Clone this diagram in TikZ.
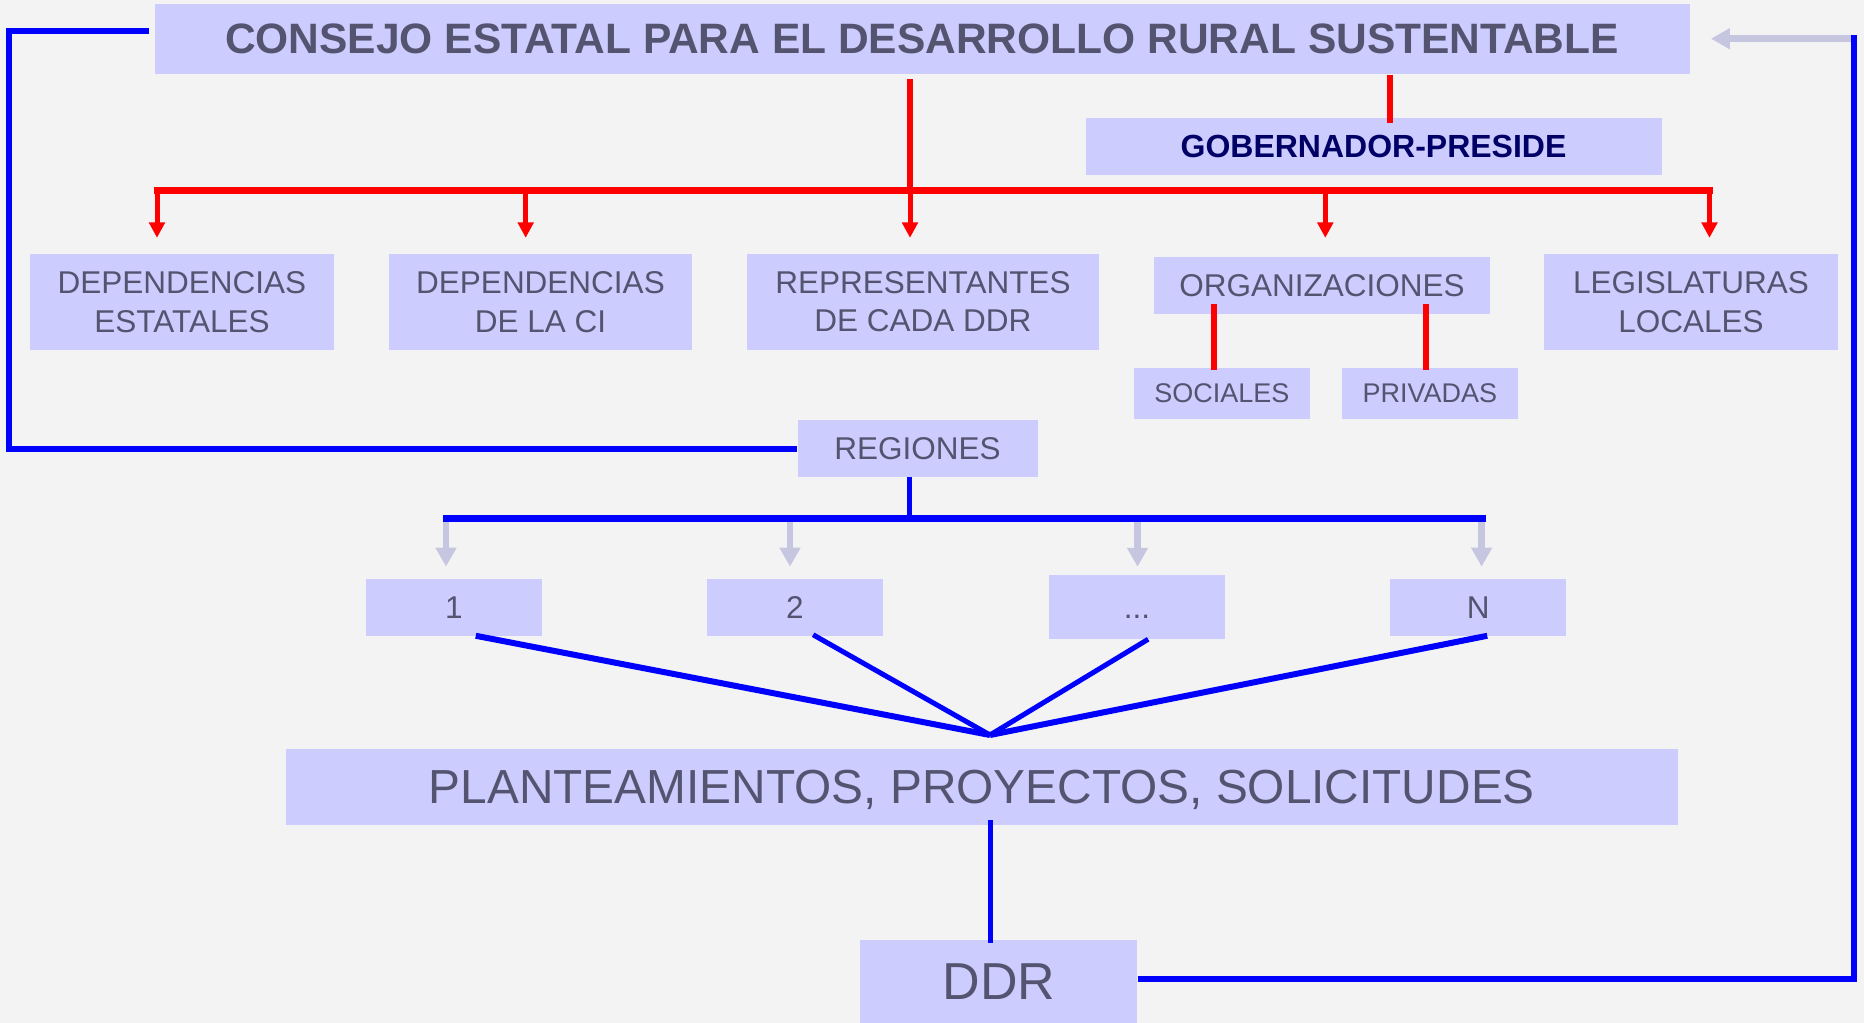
\documentclass[tikz,border=0pt]{standalone}
\usepackage{fontspec}
\setmainfont{Liberation Sans}
\usetikzlibrary{arrows.meta}
\definecolor{bgc}{RGB}{243,243,243}
\definecolor{boxc}{RGB}{204,204,255}
\definecolor{txtc}{RGB}{84,84,112}
\definecolor{navyc}{RGB}{0,0,102}
\definecolor{lavc}{RGB}{198,198,224}
\begin{document}
\begin{tikzpicture}[x=1pt,y=-1pt,
  box/.style={fill=boxc, inner sep=0pt, text=txtc, align=center, text depth=0pt},
  fbig/.style={font=\fontsize{31.5}{38.5}\selectfont},
  redln/.style={draw=red, line width=6.5pt},
  blueln/.style={draw=blue, line width=6pt},
  redarr/.style={draw=red, line width=5pt, -{Triangle[length=15.5pt,width=15.5pt]}},
  lavarr/.style={draw=lavc, line width=6.5pt, -{Triangle[length=19pt,width=20pt]}}]
\useasboundingbox (0,0) rectangle (1864,1023);
\fill[bgc] (0,0) rectangle (1864,1023);

% boxes
\node[box, minimum width=1535pt, minimum height=70pt, font=\fontsize{42.5}{50}\selectfont\bfseries] (title) at (922,38.5) {CONSEJO ESTATAL PARA EL DESARROLLO RURAL SUSTENTABLE};
\node[box, minimum width=576pt, minimum height=57.5pt, text=navyc, font=\fontsize{32}{38}\selectfont\bfseries] (gob) at (1373.5,146.5) {GOBERNADOR-PRESIDE};
\node[box, fbig, minimum width=304pt, minimum height=96pt] (depest) at (182,302) {DEPENDENCIAS\\ESTATALES};
\node[box, fbig, minimum width=303.5pt, minimum height=96pt] (depci) at (540.5,302) {DEPENDENCIAS\\DE LA CI};
\node[box, fbig, minimum width=352pt, minimum height=96pt] (repr) at (923,301.7) {REPRESENTANTES\\DE CADA DDR};
\node[box, fbig, minimum width=336pt, minimum height=57.3pt] (org) at (1322,285.2) {ORGANIZACIONES};
\node[box, fbig, minimum width=293.3pt, minimum height=95.4pt] (leg) at (1691,302) {LEGISLATURAS\\LOCALES};
\node[box, minimum width=175.6pt, minimum height=51pt, font=\fontsize{27}{32}\selectfont] (soc) at (1221.8,393.5) {SOCIALES};
\node[box, minimum width=176pt, minimum height=51pt, font=\fontsize{27}{32}\selectfont] (priv) at (1429.8,393.2) {PRIVADAS};
\node[box, fbig, minimum width=240pt, minimum height=56.7pt] (reg) at (917.5,448.5) {REGIONES};
\node[box, fbig, minimum width=176pt, minimum height=57.4pt] (r1) at (454,607.5) {1};
\node[box, fbig, minimum width=176pt, minimum height=57.4pt] (r2) at (795,607.5) {2};
\node[box, fbig, minimum width=176.6pt, minimum height=63.7pt] (rd) at (1137.1,607.3) {...\vphantom{N}};
\node[box, fbig, minimum width=175.6pt, minimum height=57.4pt] (rn) at (1478.2,607.5) {N};
\node[box, minimum width=1391.7pt, minimum height=76.4pt, font=\fontsize{47.8}{56}\selectfont] (plan) at (981.85,787) {PLANTEAMIENTOS, PROYECTOS, SOLICITUDES};
\node[box, minimum width=277pt, minimum height=84pt, font=\fontsize{52}{60}\selectfont] (ddr) at (998.85,981.5) {DDR};

% coordinates
\coordinate (tb) at (910,190.5);
\coordinate (b1) at (157,190.5);
\coordinate (b2) at (525.7,190.5);
\coordinate (b4) at (1325.3,190.5);
\coordinate (b5) at (1709.5,190.5);
\coordinate (g1) at (1390,122.5);
\coordinate (s1) at (1213.6,370);
\coordinate (p1) at (1425.9,370);
\coordinate (L1) at (9,31);
\coordinate (R1) at (1853.5,978.7);
\coordinate (R2) at (1853.5,35);
\coordinate (R3) at (1853,38.7);
\coordinate (rb) at (909.5,518.3);
\coordinate (bl) at (443,518.3);
\coordinate (br) at (1485.7,518.3);
\coordinate (a1) at (446,519);
\coordinate (a2) at (790,519);
\coordinate (a3) at (1137.5,519);
\coordinate (a4) at (1481.6,519);
\coordinate (c1) at (479,0);
\coordinate (c2) at (816,0);
\coordinate (c3) at (1148,0);
\coordinate (c4) at (1484,0);
\coordinate (cv) at (990,735);

% red connectors
\draw[redln, shorten <=5.5pt] (title.south -| tb) -- (tb);
\draw[redln, shorten <=1.5pt] (title.south -| g1) -- (g1);
\draw[redln, line cap=rect] (b1) -- (b5);
\draw[redarr, shorten >=16pt] (b1) -- (b1 |- depest.north);
\draw[redarr, shorten >=16pt] (b2) -- (b2 |- depci.north);
\draw[redarr, shorten >=15.7pt] (tb) -- (tb |- repr.north);
\draw[redarr, shorten >=18.5pt] (b4) -- (b4 |- org.north);
\draw[redarr, shorten >=16.3pt] (b5) -- (b5 |- leg.north);
\draw[redln, line width=6pt, shorten <=-10.3pt] (org.south -| s1) -- (s1);
\draw[redln, line width=6pt, shorten <=-10.3pt] (org.south -| p1) -- (p1);

% blue connectors
\draw[blueln, shorten <=5.5pt] ([yshift=7.5pt]title.west) -- (L1) -- (L1 |- reg.west) -- (reg.west);
\draw[lavarr, shorten >=21.2pt] (R3) -- (title.east |- R3);
\draw[blueln] (ddr.east |- R1) -- (R1) -- (R2);
\draw[blueln, line width=4.5pt] (reg.south -| rb) -- (rb);
\draw[lavarr, shorten >=12pt] (a1) -- (a1 |- r1.north);
\draw[lavarr, shorten >=12pt] (a2) -- (a2 |- r2.north);
\draw[lavarr, shorten >=8.5pt] (a3) -- (a3 |- rd.north);
\draw[lavarr, shorten >=12pt] (a4) -- (a4 |- rn.north);
\draw[blueln, line width=6.5pt] (bl) -- (br);
\draw[blueln, shorten <=-3.3pt] (r1.south -| c1) -- (cv);
\draw[blueln, line width=5pt, shorten <=-3.3pt] (r2.south -| c2) -- (cv);
\draw[blueln, line width=5pt, shorten <=-0.2pt] (rd.south -| c3) -- (cv);
\draw[blueln, shorten <=-3.3pt] (rn.south -| c4) -- (cv);
\draw[blueln, line width=5pt, shorten <=-5.7pt, shorten >=-3.3pt] (plan.south -| cv) -- (ddr.north -| cv);
\end{tikzpicture}
\end{document}
